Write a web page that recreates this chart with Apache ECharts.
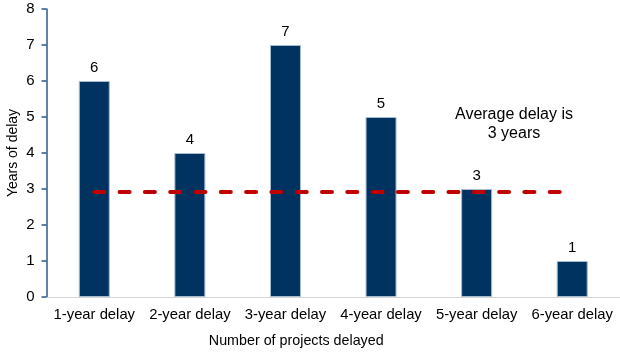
<!DOCTYPE html>
<html>
<head>
<meta charset="utf-8">
<script src="https://cdn.jsdelivr.net/npm/echarts@6/dist/echarts.min.js"></script>
<style>
  html, body { margin: 0; padding: 0; background: #fff; }
  #chart { width: 620px; height: 354px; }
</style>
</head>
<body>
<div id="chart"></div>
<script>
// Delay categories and years of delay per category
const categories = ['1-year delay', '2-year delay', '3-year delay', '4-year delay', '5-year delay', '6-year delay'];
const delayYears = [6, 4, 7, 5, 3, 1];
// Average delay reference line
const averageLine = [2.92, 2.92, 2.92, 2.92, 2.92, 2.92];
const yTicks = { min: 0, max: 8, interval: 1 };

const font = 'Liberation Sans, Arial, sans-serif';
const chart = echarts.init(document.getElementById('chart'), null, { renderer: 'canvas' });

chart.setOption({
  animation: false,
  grid: { left: 46.5, right: 0, top: 9, bottom: 57, containLabel: false, outerBoundsMode: 'none' },
  xAxis: {
    type: 'category',
    data: categories,
    name: 'Number of projects delayed',
    nameLocation: 'middle',
    nameGap: 37,
    nameMoveOverlap: false,
    nameTextStyle: { fontFamily: font, fontSize: 14.3, color: '#000', padding: [0, 74, 0, 0] },
    axisLine: { lineStyle: { color: '#d4d4d4', width: 1 } },
    axisTick: { show: false },
    axisLabel: { interval: 0, fontFamily: font, fontSize: 14.8, color: '#000', margin: 10 }
  },
  yAxis: {
    type: 'value',
    min: yTicks.min,
    max: yTicks.max,
    interval: yTicks.interval,
    name: 'Years of delay',
    nameLocation: 'middle',
    nameGap: 26,
    nameMoveOverlap: false,
    nameTextStyle: { fontFamily: font, fontSize: 14, color: '#000' },
    axisLine: { show: true, lineStyle: { color: '#2a5a8a', width: 1.5 } },
    axisTick: { show: true, length: 5, lineStyle: { color: '#2a5a8a', width: 1.5 } },
    axisLabel: { fontFamily: font, fontSize: 15, color: '#000', margin: 12 },
    splitLine: { show: false }
  },
  series: [
    {
      type: 'bar',
      data: delayYears,
      barWidth: 31,
      itemStyle: { color: '#003360', borderColor: '#a6bdd2', borderWidth: 1 },
      label: { show: true, position: 'top', distance: 6, fontFamily: font, fontSize: 15, color: '#000' }
    },
    {
      type: 'line',
      data: averageLine,
      symbol: 'none',
      z: 5,
      lineStyle: { color: '#c00000', width: 4, type: [10, 15.3], cap: 'round' }
    }
  ],
  graphic: [
    {
      type: 'text',
      x: 514,
      y: 105,
      style: {
        text: 'Average delay is\n3 years',
        align: 'center',
        fontFamily: font,
        fontSize: 16,
        lineHeight: 19,
        fill: '#000'
      }
    }
  ]
});
</script>
</body>
</html>
